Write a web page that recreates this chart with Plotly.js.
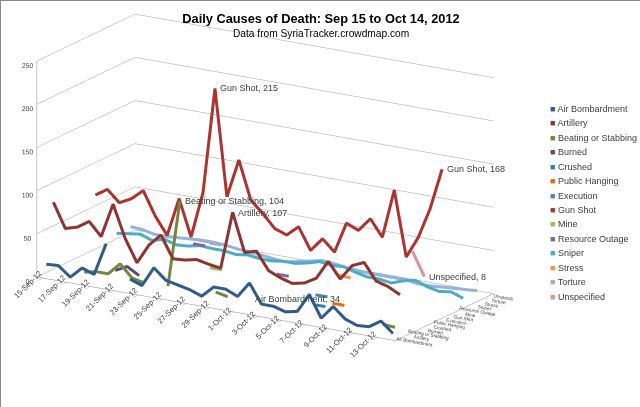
<!DOCTYPE html>
<html>
<head>
<meta charset="utf-8">
<script src="https://cdn.plot.ly/plotly-3.0.1.min.js"></script>
<style>
  html, body { margin: 0; padding: 0; background: #fff; }
  #chart { width: 640px; height: 407px; box-sizing: border-box; border: 1px solid #8a8a8a; }
</style>
</head>
<body>
<div id="chart"></div>
<script>
// days Sep 15 .. Oct 14, 2012 (index 0..29)
const days = ['15-Sep-12','16-Sep-12','17-Sep-12','18-Sep-12','19-Sep-12','20-Sep-12','21-Sep-12','22-Sep-12',
    '23-Sep-12','24-Sep-12','25-Sep-12','26-Sep-12','27-Sep-12','28-Sep-12','29-Sep-12','30-Sep-12',
    '1-Oct-12','2-Oct-12','3-Oct-12','4-Oct-12','5-Oct-12','6-Oct-12','7-Oct-12','8-Oct-12',
    '9-Oct-12','10-Oct-12','11-Oct-12','12-Oct-12','13-Oct-12','14-Oct-12'];

const causes = ['Air Bombardment','Artillery','Beating or Stabbing','Burned','Crushed','Public Hanging',
    'Execution','Gun Shot','Mine','Resource Outage','Sniper','Stress','Torture','Unspecified'];

const causeColors = ['#31598a','#8e3330','#71893f','#5f497a','#31859c','#e46c0a',
    '#4f81bd','#ab3431','#9bbb59','#8064a2','#4bacc6','#f79646','#95b3d7','#d99694'];

const n = null;
const airBombardment = [14,15,4,17,12,50,n,14,9,32,20,17,14,9,22,22,16,34,12,12,8,11,33,8,24,12,7,8,17,5];
const artillery = [82,54,58,67,52,92,55,29,52,66,41,42,45,42,40,107,63,67,47,41,37,40,48,70,52,70,76,57,53,46];
const beatingStabbing = [n,n,2,5,5,19,5,2,n,3,104,n,n,6,3,n,n,n,n,n,n,n,n,n,n,n,n,3,2,n];
const burned = [n,n,n,n,5,12,4,n,n,n,n,n,n,n,n,n,n,n,n,n,n,n,n,n,n,n,n,n,n,n];
const crushed = [n,n,n,n,n,n,n,n,n,n,n,n,n,n,n,n,n,n,n,n,1,1,n,n,n,n,n,n,n,n];
const publicHanging = [n,n,n,n,n,n,n,n,n,n,n,n,n,n,n,n,n,n,n,n,n,1,1,n,n,n,n,n,n,n];
const execution = [n,n,n,n,n,n,n,n,n,n,n,n,n,n,n,n,n,n,n,2,2,n,n,n,n,n,n,n,n,n];
const gunShot = [67,76,63,70,82,55,35,80,38,92,215,92,137,93,80,65,60,72,47,63,50,86,80,96,77,134,59,84,120,168];
const mine = [n,n,n,n,n,n,n,n,n,1,1,n,n,n,n,n,n,n,n,n,n,n,n,n,n,n,n,n,n,n];
const resourceOutage = [n,n,n,n,n,n,n,20,20,n,n,n,n,n,2,2,n,n,n,n,n,n,n,n,n,n,n,n,n,n];
const sniper = [11,13,15,10,14,10,11,14,13,13,11,13,11,11,13,13,16,20,18,19,15,12,12,10,15,18,13,10,12,7];
const stress = [n,n,n,n,n,n,n,n,n,n,n,n,n,n,n,n,n,n,3,2,n,n,n,n,n,n,n,n,n,n];
const torture = [11,10,7,7,8,9,10,10,9,7,6,5,3,2,5,8,11,10,8,7,6,6,6,6,4,4,5,6,7,8];
const unspecified = [n,n,n,n,n,n,3,3,n,n,n,n,n,n,n,n,n,n,n,n,n,n,n,35,8,n,n,n,n,n];

const seriesValues = [airBombardment, artillery, beatingStabbing, burned, crushed, publicHanging,
    execution, gunShot, mine, resourceOutage, sniper, stress, torture, unspecified];

// labelled points: [series index, day index, vertical nudge]
const labelled = [[7,10,0],[7,29,0],[2,10,0],[1,15,0],[0,17,-16],[13,24,0]];

const narrow = 'Liberation Sans Narrow, Liberation Sans, Arial';

function drawChart() {
    const dayIdx = days.map((d, i) => i);
    const traces = causes.map((name, k) => ({
        type: 'scatter3d',
        mode: 'lines',
        name: name,
        x: dayIdx,
        y: dayIdx.map(() => k),
        z: seriesValues[k],
        connectgaps: false,
        line: { color: causeColors[k], width: 6 },
        hoverinfo: 'name+z',
        showlegend: false
    }));

    const sceneLabels = labelled.map(([k, i, dy]) => ({
        x: i, y: k, z: seriesValues[k][i],
        text: causes[k] + ', ' + seriesValues[k][i],
        showarrow: false,
        xanchor: 'left', yanchor: 'middle', xshift: 3, yshift: dy,
        font: { family: narrow, size: 9, color: '#404040' }
    }));

    // compact legend: coloured square + name, one row per cause
    const legendItems = causes.map((name, k) => ({
        xref: 'paper', yref: 'paper',
        x: 0.855, y: 0.735 - k * 0.0355,
        xanchor: 'left', yanchor: 'middle',
        showarrow: false,
        text: '<span style="color:' + causeColors[k] + '">■</span> ' + name,
        font: { family: narrow, size: 9, color: '#404040' }
    }));

    const subtitle = {
        xref: 'paper', yref: 'paper', x: 0.5, y: 0.921,
        xanchor: 'center', yanchor: 'middle', showarrow: false,
        text: 'Data from SyriaTracker.crowdmap.com',
        font: { family: narrow, size: 10.2, color: '#000' }
    };

    const tickDays = dayIdx.filter(i => i % 2 === 0 && i < 29);

    const layout = {
        width: 640,
        height: 407,
        margin: { l: 0, r: 0, t: 0, b: 0 },
        paper_bgcolor: '#fff',
        font: { family: narrow, size: 9, color: '#404040' },
        title: {
            text: '<b>Daily Causes of Death: Sep 15 to Oct 14, 2012</b>',
            x: 0.5, xanchor: 'center', y: 0.958, yanchor: 'middle',
            font: { family: narrow, size: 12.8, color: '#000' }
        },
        showlegend: false,
        annotations: legendItems.concat([subtitle]),
        scene: {
            domain: { x: [0, 0.8], y: [0.09, 1.0] },
            aspectmode: 'manual',
            aspectratio: { x: 2.27, y: 1.02, z: 1.22 },
            camera: {
                eye: { x: 1.263, y: -2.158, z: 0.712 },
                center: { x: -0.04, y: -0.02, z: -0.05 },
                up: { x: 0, y: 0, z: 1 },
                projection: { type: 'orthographic' }
            },
            xaxis: {
                title: { text: '' },
                range: [-0.5, 29.5],
                tickvals: tickDays,
                ticktext: tickDays.map(i => days[i]),
                tickangle: -45,
                showgrid: false, zeroline: false,
                showbackground: false,
                showline: true, linecolor: '#8c8c8c',
                ticks: 'outside', tickcolor: '#8c8c8c', ticklen: 3,
                tickfont: { family: narrow, size: 9.5, color: '#404040' },
                showspikes: false
            },
            yaxis: {
                title: { text: '' },
                range: [-0.5, 13.5],
                tickvals: causes.map((c, k) => k),
                ticktext: causes,
                showgrid: false, zeroline: false,
                showbackground: false,
                showline: true, linecolor: '#8c8c8c',
                tickfont: { family: narrow, size: 7.5, color: '#404040' },
                showspikes: false
            },
            zaxis: {
                title: { text: '' },
                range: [0, 250],
                dtick: 50,
                tickangle: 0,
                showgrid: true, gridcolor: '#a0a0a0', gridwidth: 1,
                zeroline: false,
                showbackground: false,
                showline: true, linecolor: '#8c8c8c',
                tickfont: { family: narrow, size: 9, color: '#404040' },
                showspikes: false
            },
            annotations: sceneLabels
        }
    };

    Plotly.newPlot('chart', traces, layout, { displayModeBar: false });
}

drawChart();
</script>
</body>
</html>
